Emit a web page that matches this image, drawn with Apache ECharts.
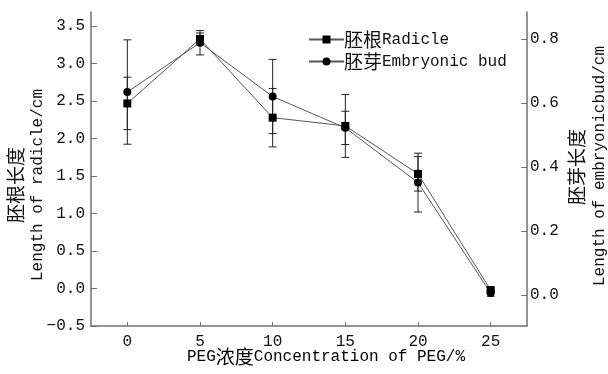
<!DOCTYPE html>
<html><head><meta charset="utf-8">
<script src="https://cdn.jsdelivr.net/npm/echarts@6/dist/echarts.min.js"></script>
<style>html,body{margin:0;padding:0;background:#fff}#c{width:608px;height:374px}</style>
</head><body><div id="c"></div>
<script>
const concentrations = [0, 5, 10, 15, 20, 25];
const radicle = [2.47, 3.33, 2.28, 2.17, 1.53, -0.02];
const radicleErr = [0.35, 0.08, 0.39, 0.42, 0.23, 0.03];
const bud = [0.634, 0.788, 0.62, 0.522, 0.351, 0.006];
const budErr = [0.163, 0.038, 0.116, 0.052, 0.092, 0.01];
const leftTicks = [-0.5, 0, 0.5, 1, 1.5, 2, 2.5, 3, 3.5];
const rightTicks = [0, 0.2, 0.4, 0.6, 0.8];
const xTicks = [0, 5, 10, 15, 20, 25];
const seriesNames = ['胚根Radicle', '胚芽Embryonic bud'];

const MONO = '"Liberation Mono", "Noto Sans CJK SC", monospace';
const CJK = '"Noto Sans CJK SC", sans-serif';
const FS = 16;
const textColor = '#111';
const axisColor = '#707070';

function fmt(v) {
  const s = Math.abs(v).toFixed(1);
  return (v < 0 ? '\u2212' : '') + s;
}
function richSplit(str) {
  let out = '', cur = '', mode = null;
  for (const ch of str) {
    const m = /[\u3400-\u9fff]/.test(ch) ? 'c' : 'l';
    if (m !== mode) { if (cur) out += '{' + mode + '|' + cur + '}'; cur = ''; mode = m; }
    cur += ch;
  }
  if (cur) out += '{' + mode + '|' + cur + '}';
  return out;
}
const rich = {
  c: { fontFamily: CJK, fontSize: 19, color: textColor },
  l: { fontFamily: MONO, fontSize: FS, color: textColor }
};

function errBar(values, errs) {
  return concentrations.map((c, i) => [c, values[i] - errs[i], values[i] + errs[i]]);
}
function renderErr(params, api) {
  const x = api.value(0);
  const lo = api.coord([x, api.value(1)]);
  const hi = api.coord([x, api.value(2)]);
  const w = 4;
  const st = { stroke: '#222', lineWidth: 1 };
  return {
    type: 'group',
    children: [
      { type: 'line', shape: { x1: hi[0], y1: hi[1], x2: lo[0], y2: lo[1] }, style: st },
      { type: 'line', shape: { x1: hi[0] - w, y1: hi[1], x2: hi[0] + w, y2: hi[1] }, style: st },
      { type: 'line', shape: { x1: lo[0] - w, y1: lo[1], x2: lo[0] + w, y2: lo[1] }, style: st }
    ]
  };
}

const chart = echarts.init(document.getElementById('c'), null, { renderer: 'canvas' });
chart.setOption({
  animation: false,
  backgroundColor: '#fff',
  grid: { left: 91, right: 81, top: 12, bottom: 48 },
  xAxis: {
    type: 'value', min: -2.5, max: 27.5,
    axisLine: { onZero: false, lineStyle: { color: axisColor, width: 1.5 } },
    axisTick: { inside: true, length: 4, customValues: xTicks, lineStyle: { color: axisColor } },
    axisLabel: { customValues: xTicks, margin: 8, fontFamily: MONO, fontSize: FS, color: textColor },
    splitLine: { show: false }
  },
  yAxis: [
    {
      type: 'value', min: -0.5, max: 3.69, position: 'left',
      axisLine: { show: true, onZero: false, lineStyle: { color: axisColor, width: 1.5 } },
      axisTick: { show: true, inside: true, length: 6, customValues: leftTicks, lineStyle: { color: axisColor } },
      axisLabel: { customValues: leftTicks, margin: 6, formatter: fmt, fontFamily: MONO, fontSize: FS, color: textColor },
      splitLine: { show: false }
    },
    {
      type: 'value', min: -0.097, max: 0.884, position: 'right',
      axisLine: { show: true, onZero: false, lineStyle: { color: axisColor, width: 1.5 } },
      axisTick: { show: true, inside: true, length: 6, customValues: rightTicks, lineStyle: { color: axisColor } },
      axisLabel: { customValues: rightTicks, margin: 3, formatter: fmt, fontFamily: MONO, fontSize: FS, color: textColor },
      splitLine: { show: false }
    }
  ],
  legend: {
    orient: 'vertical', left: 303, top: 25, itemGap: 3,
    itemWidth: 35, itemHeight: 10,
    data: seriesNames,
    formatter: (n) => richSplit(n),
    textStyle: { rich: rich, padding: [0, 0, 0, -5] }
  },
  series: [
    {
      name: seriesNames[0], type: 'line', yAxisIndex: 0,
      data: concentrations.map((c, i) => [c, radicle[i]]),
      symbol: 'rect', symbolSize: 8,
      lineStyle: { color: '#555', width: 1 },
      itemStyle: { color: '#000' }, z: 3
    },
    {
      name: seriesNames[1], type: 'line', yAxisIndex: 1,
      data: concentrations.map((c, i) => [c, bud[i]]),
      symbol: 'circle', symbolSize: 8,
      lineStyle: { color: '#555', width: 1 },
      itemStyle: { color: '#000' }, z: 3
    },
    {
      type: 'custom', yAxisIndex: 0, renderItem: renderErr,
      data: errBar(radicle, radicleErr), encode: { x: 0, y: [1, 2] }, z: 2, silent: true
    },
    {
      type: 'custom', yAxisIndex: 1, renderItem: renderErr,
      data: errBar(bud, budErr), encode: { x: 0, y: [1, 2] }, z: 2, silent: true
    }
  ],
  graphic: [
    { type: 'text', x: 16, y: 185, rotation: Math.PI / 2,
      style: { text: '胚根长度', font: '19px ' + CJK, fill: textColor, align: 'center', verticalAlign: 'middle' } },
    { type: 'text', x: 38, y: 185, rotation: Math.PI / 2,
      style: { text: 'Length of radicle/cm', font: FS + 'px ' + MONO, fill: textColor, align: 'center', verticalAlign: 'middle' } },
    { type: 'text', x: 577, y: 167, rotation: Math.PI / 2,
      style: { text: '胚芽长度', font: '19px ' + CJK, fill: textColor, align: 'center', verticalAlign: 'middle' } },
    { type: 'text', x: 600, y: 166, rotation: Math.PI / 2,
      style: { text: 'Length of embryonicbud/cm', font: FS + 'px ' + MONO, fill: textColor, align: 'center', verticalAlign: 'middle' } },
    { type: 'text', x: 326, y: 357,
      style: { text: richSplit('PEG浓度Concentration of PEG/%'), rich: rich, align: 'center', verticalAlign: 'middle' } }
  ]
});
</script></body></html>
